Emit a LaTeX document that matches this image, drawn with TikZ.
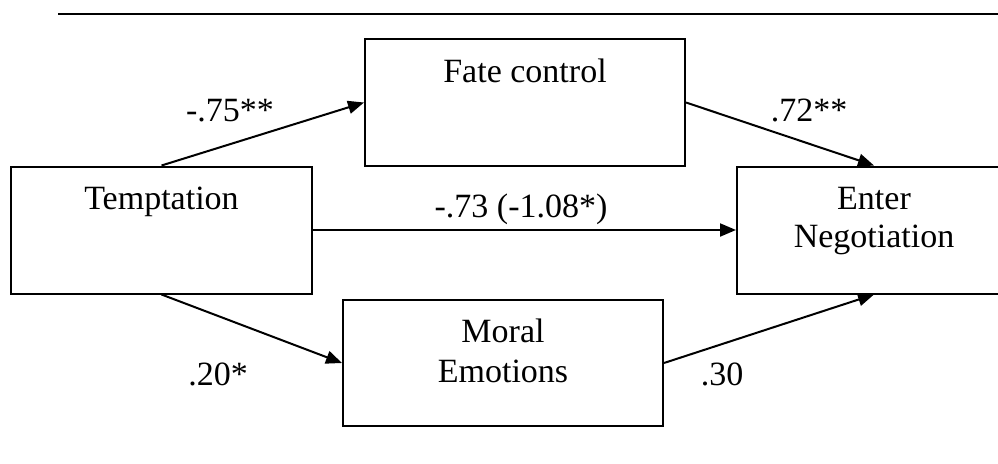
\documentclass[tikz,border=0pt]{standalone}
\usepackage{fontspec}
\setmainfont{Liberation Serif}
\usetikzlibrary{arrows.meta,calc}
\begin{document}
\begin{tikzpicture}[x=1pt,y=-1pt,
  box/.style={draw,line width=2pt,minimum height=127pt,inner sep=0pt},
  txt/.style={font=\fontsize{34}{39}\selectfont,anchor=base,inner sep=0pt},
  arr/.style={line width=2pt,-{Triangle[length=16pt,width=13pt]}}]
\useasboundingbox (0,0) rectangle (998,463);
% top rule
\coordinate (rs) at (58,14);
\coordinate (re) at (998,14);
\draw[line width=2.4pt] (rs) -- (re);
% boxes
\node[box,minimum width=320pt] (fate) at (525,102.5) {};
\node[box,minimum width=301pt] (tempt) at (161.5,230) {};
\node[box,minimum width=274pt] (enter) at (874,230) {};
\node[box,minimum width=320pt,minimum height=126pt] (moral) at (503,363) {};
% box texts
\node[txt] (fatet) at (525,82) {Fate control};
\node[txt] (temptt) at (161.5,209) {Temptation};
\node[txt] (entert1) at (874,209) {Enter};
\node[txt] (entert2) at (874,247.5) {Negotiation};
\node[txt] (moralt1) at (503,342.5) {Moral};
\node[txt] (moralt2) at (503,382) {Emotions};
% connectors
\draw[arr] (tempt.north) -- (fate.west);
\draw[arr] (fate.east) -- (enter.north);
\draw[arr] (tempt.east) -- (enter.west);
\draw[arr] (tempt.south) -- (moral.west);
\draw[arr] (moral.east) -- (enter.south);
% coefficients
\node[txt] (c1) at (230,121) {-.75**};
\node[txt] (c2) at (809,121) {.72**};
\node[txt] (c3) at (521,217) {-.73 (-1.08*)};
\node[txt] (c4) at (218,385) {.20*};
\node[txt] (c5) at (722,385) {.30};
\end{tikzpicture}
\end{document}
